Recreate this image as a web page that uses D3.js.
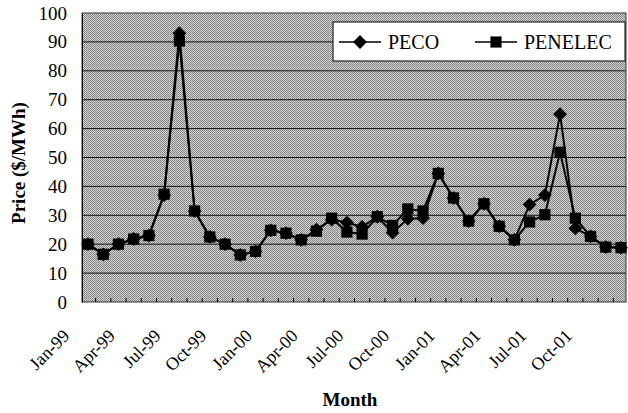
<!DOCTYPE html>
<html>
<head>
<meta charset="utf-8">
<script src="https://cdn.jsdelivr.net/npm/d3@7"></script>
<style>
  body { margin: 0; background: #fff; }
  text { font-family: "Liberation Serif", "Times New Roman", serif; fill: #000; }
</style>
</head>
<body>
<svg id="chart" width="628" height="413"></svg>
<script>
// monthly categories
const months = ["Jan-99","Feb-99","Mar-99","Apr-99","May-99","Jun-99","Jul-99","Aug-99","Sep-99","Oct-99","Nov-99","Dec-99",
  "Jan-00","Feb-00","Mar-00","Apr-00","May-00","Jun-00","Jul-00","Aug-00","Sep-00","Oct-00","Nov-00","Dec-00",
  "Jan-01","Feb-01","Mar-01","Apr-01","May-01","Jun-01","Jul-01","Aug-01","Sep-01","Oct-01","Nov-01","Dec-01"]

// price ($/MWh)
const peco = [20, 16.5, 20, 21.8, 23, 37, 93, 31.5, 22.5, 20, 16.3, 17.5,
  24.8, 23.8, 21.5, 25, 28.5, 27.5, 26, 29.5, 24, 28.8, 29, 44.5,
  36, 28, 34, 26.2, 21.5, 33.7, 37, 65, 25.5, 22.7, 19, 18.8]
const penelec = [20, 16.5, 20, 21.8, 23, 37.3, 90.3, 31.5, 22.5, 20, 16.3, 17.5,
  24.8, 23.8, 21.5, 24.5, 29, 24.2, 23.5, 29.5, 26.5, 32.2, 31.5, 44.5,
  36, 28, 34, 26.2, 21.5, 27.7, 30.2, 51.8, 29, 22.7, 19, 18.8]

const yTicks = [0, 10, 20, 30, 40, 50, 60, 70, 80, 90, 100]
const xTickLabels = ["Jan-99","Apr-99","Jul-99","Oct-99","Jan-00","Apr-00","Jul-00","Oct-00","Jan-01","Apr-01","Jul-01","Oct-01"]

const svg = d3.select("#chart")
const plotLeft = 82, plotRight = 626, plotTop = 13, plotBottom = 302

const x = d3.scalePoint().domain(months).range([88, 621])
const y = d3.scaleLinear().domain([0, 100]).range([plotBottom, plotTop])

// stippled grey background like the scanned original
const defs = svg.append("defs")
const pat = defs.append("pattern").attr("id", "stipple")
  .attr("width", 2).attr("height", 2).attr("patternUnits", "userSpaceOnUse")
pat.append("rect").attr("width", 2).attr("height", 2).attr("fill", "#d6d6d6")
pat.append("rect").attr("width", 1).attr("height", 1).attr("fill", "#7a7a7a")
pat.append("rect").attr("x", 1).attr("y", 1).attr("width", 1).attr("height", 1).attr("fill", "#8a8a8a")

svg.append("rect")
  .attr("x", plotLeft).attr("y", plotTop)
  .attr("width", plotRight - plotLeft).attr("height", plotBottom - plotTop)
  .attr("fill", "url(#stipple)")

// horizontal gridlines
svg.append("g").selectAll("line")
  .data(yTicks.filter(d => d > 0 && d < 100))
  .join("line")
  .attr("x1", plotLeft).attr("x2", plotRight)
  .attr("y1", d => y(d)).attr("y2", d => y(d))
  .attr("stroke", "#111").attr("stroke-width", 1)

// plot frame
svg.append("rect")
  .attr("x", plotLeft).attr("y", plotTop)
  .attr("width", plotRight - plotLeft).attr("height", plotBottom - plotTop)
  .attr("fill", "none").attr("stroke", "#333").attr("stroke-width", 1)

// small month ticks on the bottom edge
const step = x.step()
svg.append("g").selectAll("line")
  .data(months)
  .join("line")
  .attr("x1", d => x(d) + step / 2).attr("x2", d => x(d) + step / 2)
  .attr("y1", plotBottom).attr("y2", plotBottom - 4)
  .attr("stroke", "#000")

// y axis
const yAxis = svg.append("g")
  .attr("transform", `translate(${plotLeft},0)`)
  .call(d3.axisLeft(y).tickValues(yTicks).tickSize(0).tickPadding(15))
yAxis.select(".domain").attr("stroke", "#000")
yAxis.selectAll("text")
  .style("font-family", "'Liberation Serif', serif")
  .style("font-size", "19px")
  .attr("fill", "#000")

// x axis
const xAxis = svg.append("g")
  .attr("transform", `translate(0,${plotBottom})`)
  .call(d3.axisBottom(x).tickValues(xTickLabels).tickSize(0))
xAxis.select(".domain").remove()
xAxis.selectAll("text")
  .style("font-family", "'Liberation Serif', serif")
  .style("font-size", "18px")
  .attr("fill", "#000")
  .attr("text-anchor", "end")
  .attr("dy", 0)
  .attr("y", 0)
  .attr("transform", "translate(-18,35) rotate(-45)")

// axis titles
svg.append("text")
  .attr("x", 350).attr("y", 406)
  .attr("text-anchor", "middle")
  .style("font-weight", "bold").style("font-size", "19px")
  .text("Month")

svg.append("text")
  .attr("transform", "translate(25,163) rotate(-90)")
  .attr("text-anchor", "middle")
  .style("font-weight", "bold").style("font-size", "19px")
  .text("Price ($/MWh)")

// series
const line = d3.line().x((d, i) => x(months[i])).y(d => y(d))
const series = [
  { name: "PECO", values: peco, shape: "diamond" },
  { name: "PENELEC", values: penelec, shape: "square" }
]
const diamond = d3.symbol().type(d3.symbolSquare).size(95)
const square = d3.symbol().type(d3.symbolSquare).size(125)

series.forEach(s => {
  svg.append("path")
    .datum(s.values)
    .attr("d", line)
    .attr("fill", "none")
    .attr("stroke", "#000")
    .attr("stroke-width", 2)
})
series.forEach(s => {
  svg.append("g").selectAll("path")
    .data(s.values)
    .join("path")
    .attr("d", s.shape === "diamond" ? diamond : square)
    .attr("transform", (d, i) => `translate(${x(months[i])},${y(d)})` + (s.shape === "diamond" ? " rotate(45)" : ""))
    .attr("fill", "#000")
})

// legend
const legend = svg.append("g")
legend.append("rect")
  .attr("x", 333).attr("y", 22).attr("width", 292).attr("height", 39)
  .attr("fill", "#fff").attr("stroke", "#000").attr("stroke-width", 1)

const legendItems = [
  { name: "PECO", x0: 339, shape: "diamond" },
  { name: "PENELEC", x0: 475, shape: "square" }
]
legendItems.forEach(it => {
  legend.append("line")
    .attr("x1", it.x0).attr("x2", it.x0 + 42)
    .attr("y1", 42).attr("y2", 42)
    .attr("stroke", "#000").attr("stroke-width", 1.5)
  legend.append("path")
    .attr("d", it.shape === "diamond" ? diamond : square)
    .attr("transform", `translate(${it.x0 + 21},42)` + (it.shape === "diamond" ? " rotate(45)" : ""))
    .attr("fill", "#000")
  legend.append("text")
    .attr("x", it.x0 + 49).attr("y", 49)
    .style("font-size", "20px")
    .text(it.name)
})
</script>
</body>
</html>
